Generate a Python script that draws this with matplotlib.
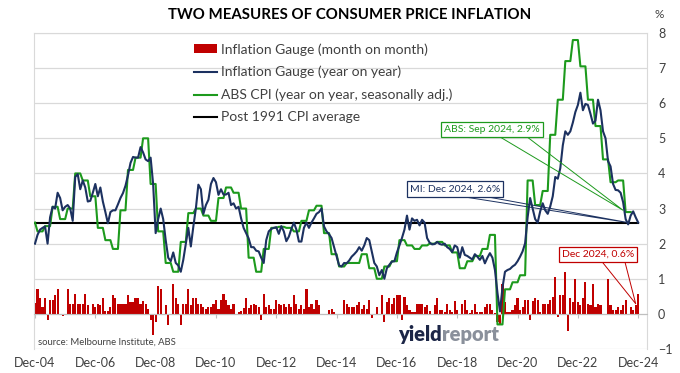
import numpy as np
import matplotlib
matplotlib.use("Agg")
import matplotlib.pyplot as plt
import matplotlib.transforms as mtransforms
from matplotlib.patches import Rectangle
from matplotlib.lines import Line2D

plt.rcParams['font.family'] = ['Lato', 'DejaVu Sans']

# Inflation Gauge, year on year, monthly Dec-04 .. Dec-24
gauge_yoy = [
    2.0, 2.25, 2.4, 2.45, 2.49, 2.0, 2.75, 3.05, 3.0, 3.45,
    3.3, 2.95, 3.05, 3.1, 3.0, 2.65, 3.9, 3.98, 3.55, 3.8,
    3.6, 3.2, 3.22, 3.45, 3.7, 3.35, 3.6, 3.2, 2.9, 2.58,
    2.9, 2.95, 2.95, 3.12, 3.3, 3.44, 3.65, 3.95, 4.3, 4.47,
    4.45, 4.45, 4.75, 4.6, 4.4, 4.35, 4.45, 3.7, 2.3, 2.7,
    3.0, 2.7, 2.1, 1.6, 1.5, 1.75, 1.45, 1.38, 1.2, 1.54,
    2.0, 2.45, 1.92, 2.49, 3.0, 3.68, 3.55, 2.85, 3.1, 3.25,
    3.7, 3.87, 3.75, 3.39, 3.55, 3.4, 3.4, 3.45, 3.1, 3.15,
    3.0, 3.05, 2.72, 2.45, 2.3, 2.15, 1.9, 1.9, 1.8, 1.78,
    1.6, 1.45, 2.1, 2.35, 2.42, 2.45, 2.47, 2.28, 2.5, 2.35,
    2.07, 2.2, 2.42, 2.6, 2.4, 2.06, 2.06, 2.45, 2.6, 2.45,
    2.6, 2.72, 2.85, 2.9, 3.0, 2.49, 2.35, 2.27, 2.16, 1.9,
    1.63, 1.38, 1.35, 1.45, 1.44, 1.52, 1.63, 1.7, 1.78, 1.9,
    1.8, 1.95, 2.16, 2.1, 1.78, 1.45, 1.35, 1.1, 1.25, 1.0,
    1.3, 1.4, 1.49, 1.5, 1.75, 1.95, 2.16, 2.4, 2.8, 2.4,
    2.72, 2.65, 2.68, 2.52, 2.68, 2.6, 2.16, 2.03, 1.98, 1.99,
    2.05, 1.99, 1.97, 2.0, 1.9, 1.85, 1.76, 1.95, 1.9, 1.6,
    1.9, 1.68, 1.65, 1.6, 1.55, 1.7, 1.63, 1.54, 1.65, 1.44,
    1.6, 1.73, 1.6, 1.25, 0.6, 0.07, 0.75, 1.2, 1.25, 1.28,
    1.35, 1.4, 1.5, 1.63, 1.78, 2.01, 2.75, 3.3, 3.0, 2.7,
    2.6, 2.92, 3.15, 2.95, 2.85, 3.06, 3.35, 3.9, 3.85, 4.15,
    4.8, 5.2, 5.1, 5.2, 5.45, 5.75, 5.95, 6.3, 5.8, 5.98,
    5.95, 5.7, 5.42, 5.5, 6.1, 5.8, 5.2, 5.0, 4.35, 4.2,
    3.7, 3.53, 3.52, 3.45, 3.18, 2.7, 2.55, 2.8, 2.92, 2.75,
    2.6,
]

# Inflation Gauge, month on month
gauge_mom = [
    0.31, 0.70, 0.44, 0.2, 0.46, -0.18, 0.39, 0.39, 0.55, 0.7,
    -0.04, -0.05, 0.0, 0.7, 0.27, 0.27, 0.58, 0.27, 0.27, 0.27,
    0.58, 0.25, -0.04, 0.27, 0.2, 0.27, 0.25, 0.46, 0.08, 0.08,
    0.2, 0.55, 0.44, 0.27, 0.27, 0.27, 0.27, 0.55, 0.34, 0.34,
    0.46, 0.46, 0.27, 0.36, 0.27, 0.15, -0.18, -0.61, -0.23, 0.8,
    0.72, -0.04, 0.25, -0.32, -0.04, 0.86, 0.46, 0.27, -0.32, 0.27,
    0.27, 0.7, 0.25, 0.46, 0.46, 0.27, 0.27, 0.2, 0.15, 0.2,
    0.2, 0.29, 0.39, 0.15, 0.39, 0.58, 0.39, 0.25, 0.15, 0.29,
    -0.04, 0.06, 0.08, 0.17, 0.46, 0.17, 0.25, 0.29, 0.25, 0.2,
    -0.18, 0.58, 0.2, 0.25, 0.15, 0.15, 0.39, 0.29, 0.25, 0.29,
    0.2, 0.27, 0.2, 0.53, 0.29, 0.15, 0.25, 0.15, 0.7, 0.2,
    0.29, 0.15, 0.39, 0.25, 0.0, 0.0, 0.0, 0.1, 0.15, 0.06,
    0.0, 0.0, 0.0, 0.39, 0.27, 0.2, 0.2, 0.2, 0.25, 0.34,
    0.13, 0.25, 0.15, 0.39, -0.13, -0.04, 0.2, -0.04, 0.55, -0.23,
    0.34, 0.44, 0.27, 0.46, 0.55, 0.55, -0.18, 0.48, 0.25, 0.1,
    0.06, 0.06, 0.27, 0.27, 0.27, 0.2, 0.25, 0.08, 0.01, 0.25,
    0.46, 0.1, 0.1, 0.06, 0.29, 0.1, 0.06, 0.36, 0.1, -0.02,
    0.27, 0.39, 0.1, 0.02, 0.1, 0.29, 0.06, 0.06, 0.06, 0.2,
    0.27, 0.27, 0.1, 0.02, -0.23, -0.3, 0.86, 0.34, 0.06, 0.04,
    0.1, 0.25, 0.46, 0.1, 0.2, 0.39, 0.39, -0.18, 0.36, 0.46,
    0.39, 0.06, 0.27, 0.29, 0.29, 0.39, 0.48, 1.05, -0.09, 0.53,
    0.53, 1.2, -0.49, 0.44, 0.34, 0.99, 0.34, 0.25, 0.44, 0.91,
    0.29, 0.25, 0.84, 0.2, 0.29, 0.25, -0.04, 0.01, 0.99, 0.25,
    0.1, 0.1, 0.2, 0.1, 0.25, 0.39, -0.04, 0.2, 0.1, 0.25,
    0.58,
]

# ABS CPI year on year (seasonally adj.), quarterly Dec-04 .. Sep-24
abs_cpi_q = [
    2.6, 2.35, 2.5, 3.05, 2.7, 3.0, 4.0, 3.8, 3.35, 2.45,
    2.1, 1.85, 2.95, 4.1, 4.45, 5.0, 3.7, 2.35, 1.45, 1.2,
    2.05, 2.87, 3.0, 2.8, 2.65, 3.3, 3.6, 3.45, 3.0, 1.6,
    1.2, 1.85, 2.45, 2.48, 2.45, 2.35, 2.65, 2.95, 3.08, 2.3,
    1.7, 1.35, 1.45, 1.45, 1.7, 1.3, 1.0, 1.35, 1.5, 2.1,
    1.95, 1.85, 1.95, 2.0, 2.05, 1.95, 1.75, 1.3, 1.5, 1.65,
    1.85, 2.25, -0.3, 0.7, 0.9, 1.1, 3.8, 3.1, 3.5, 5.1,
    6.1, 7.2, 7.8, 7.05, 6.1, 5.35, 4.4, 3.75, 3.8, 2.9,
]

cpi_avg_post1991 = 2.6

xtick_labels = ['Dec-04', 'Dec-06', 'Dec-08', 'Dec-10', 'Dec-12', 'Dec-14',
                'Dec-16', 'Dec-18', 'Dec-20', 'Dec-22', 'Dec-24']

red = '#c00000'
navy = '#1c3160'
green = '#1d9a1d'
grey_txt = '#404040'

months = np.arange(len(gauge_yoy))
# quarterly value held over the three months of its quarter
abs_months = np.arange(3 * (len(abs_cpi_q) - 1) + 1)
abs_monthly = [abs_cpi_q[int(np.ceil(m / 3))] for m in abs_months]
avg_line = [cpi_avg_post1991] * len(months)

W, H = 680, 373
fig = plt.figure(figsize=(W / 100, H / 100), dpi=100)
ax = fig.add_axes([34 / W, 1 - 349 / H, (647 - 34) / W, (349 - 33) / H])

ax.bar(months, gauge_mom, width=0.85, color=red, zorder=2)
ax.plot(months, avg_line, color='black', lw=1.5, zorder=3)
ax.plot(abs_months, abs_monthly, color=green, lw=1.5, zorder=4)
ax.plot(months, gauge_yoy, color=navy, lw=1.5, zorder=5)

ax.set_xlim(-0.4, 243.5)
ax.set_ylim(-1, 8)
ax.set_yticks(range(-1, 9))
ax.yaxis.grid(True, color='#d9d9d9', lw=0.9)
ax.set_axisbelow(True)
ax.yaxis.tick_right()
ax.tick_params(axis='y', length=0, pad=8, labelsize=9, labelcolor=grey_txt)

for s in ['top', 'left', 'right']:
    ax.spines[s].set_color('#d9d9d9')
ax.spines['bottom'].set_position(('data', 0))
ax.spines['bottom'].set_color('#bfbfbf')
xt = np.arange(0, len(months), 24)
ax.set_xticks(xt)
ax.tick_params(axis='x', direction='out', length=3, color='#bfbfbf', labelbottom=False)

trans = mtransforms.blended_transform_factory(ax.transData, ax.transAxes)
for m, lab in zip(xt, xtick_labels):
    ax.text(m, -0.044, lab, transform=trans, ha='center', va='center',
            fontsize=9, color=grey_txt)

fig.text(350 / W, 1 - 15 / H, 'TWO MEASURES OF CONSUMER PRICE INFLATION',
         ha='center', va='center', fontsize=10.8, fontweight='bold', color='black')
fig.text(659 / W, 1 - 15 / H, '%', ha='center', va='center', fontsize=8.5, color=grey_txt)
fig.text(38 / W, 1 - 342 / H, 'source: Melbourne Institute, ABS', ha='left', va='center',
         fontsize=6.8, color=grey_txt)

# logo
t1 = fig.text(398 / W, 1 - 341 / H, 'yield', ha='left', va='baseline',
              fontsize=14.5, fontweight='heavy', color='#1c2647')
ax.annotate('report', xy=(1, 0), xycoords=t1, ha='left', va='bottom',
            fontsize=14.5, fontweight='heavy', color='#8a909b', annotation_clip=False)

# legend
handles = [Rectangle((0, 0), 1, 1, fc=red, ec='none'),
           Line2D([], [], color=navy, lw=1.5),
           Line2D([], [], color=green, lw=1.5),
           Line2D([], [], color='black', lw=1.5)]
labels = ['Inflation Gauge (month on month)', 'Inflation Gauge (year on year)',
          'ABS CPI (year on year, seasonally adj.)', 'Post 1991 CPI average']
ax.legend(handles, labels, loc='upper left', bbox_to_anchor=(194 / W, 1 - 43 / H),
          bbox_transform=fig.transFigure, frameon=False, fontsize=10,
          handlelength=1.65, handleheight=0.55, handletextpad=0.27, labelspacing=0.74,
          borderpad=0, borderaxespad=0, labelcolor=grey_txt)


# callouts
def callout(text, color, center, base_y, base_x, target):
    ax.text(center[0], center[1], text, ha='center', va='center', fontsize=7.5,
            color=color, zorder=7,
            bbox=dict(boxstyle='square,pad=0.3', fc='white', ec=color, lw=0.9))
    ax.plot([base_x[0], target[0], base_x[1]], [base_y, target[1], base_y],
            color=color, lw=0.7, zorder=6)


last_q = len(abs_monthly) - 1
callout('ABS: Sep 2024, 2.9%', green, (181.9, 5.26), 5.04, (185, 195.8),
        (last_q - 3, abs_cpi_q[-1] + 0.05))
callout('MI: Dec 2024, 2.6%', navy, (167.1, 3.56), 3.32, (171.9, 181),
        (months[-1] - 4, gauge_yoy[-1]))
callout('Dec 2024, 0.6%', red, (224, 1.70), 1.46, (225.9, 234.8),
        (months[-1] - 1, gauge_mom[-1] / 2))

fig.savefig('out.png', dpi=100)
